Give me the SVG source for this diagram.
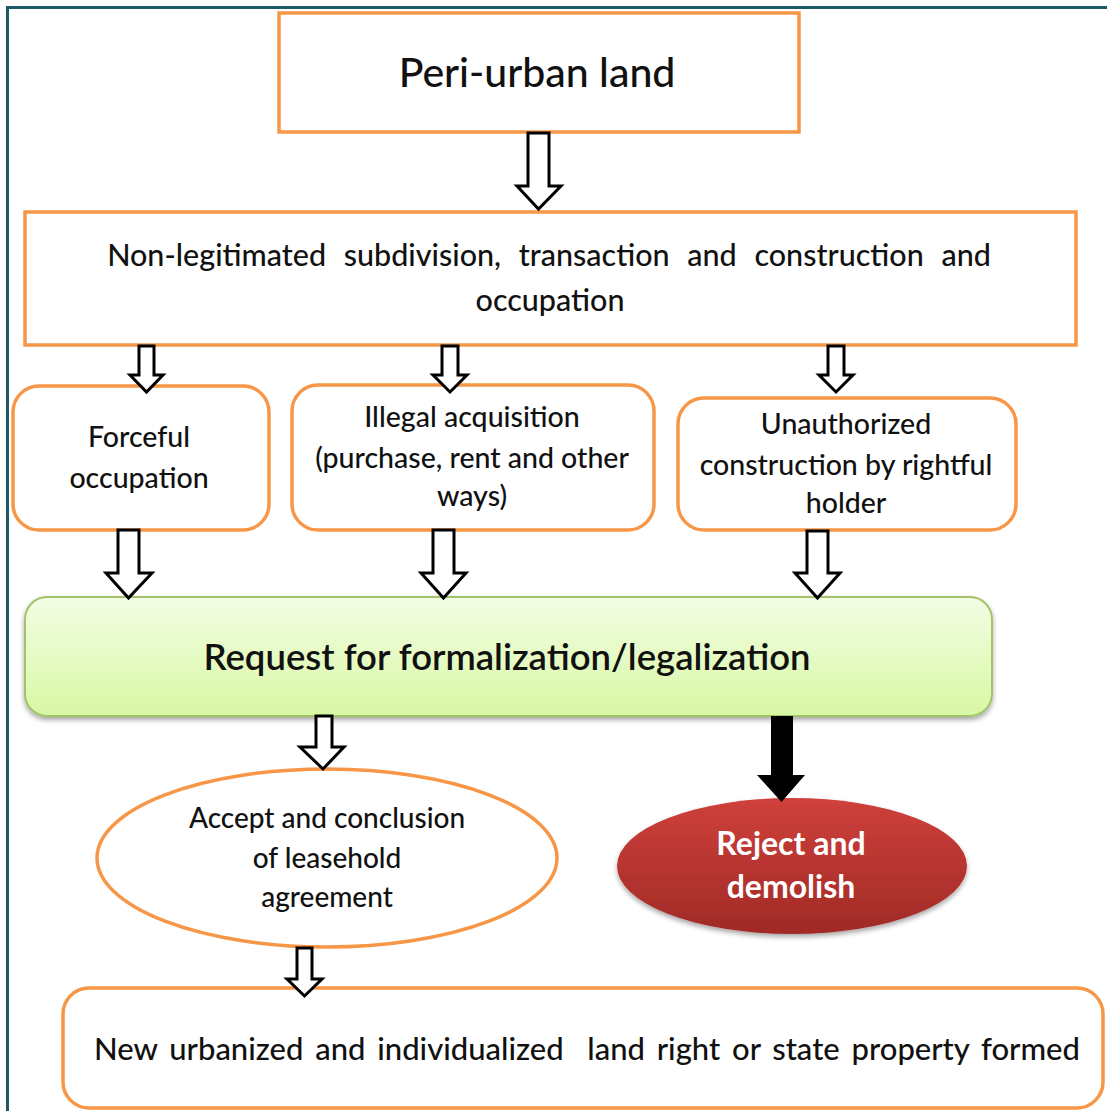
<svg xmlns="http://www.w3.org/2000/svg" width="1107" height="1111" viewBox="0 0 1107 1111">
<style>
.box{fill:#fff;stroke:#F79646;stroke-width:3.5}
.t{font-family:Lato,"Open Sans","Liberation Sans",sans-serif;font-weight:500;fill:#111;text-anchor:middle}
.ha{fill:#fff;stroke:#000;stroke-width:3;stroke-linejoin:miter}
</style>
<defs>
<linearGradient id="g" x1="0" y1="0" x2="0" y2="1">
<stop offset="0" stop-color="#F3FDE4"/><stop offset="1" stop-color="#D8F8A4"/>
</linearGradient>
<linearGradient id="r" x1="0" y1="0" x2="0" y2="1">
<stop offset="0" stop-color="#CF403B"/><stop offset="1" stop-color="#A02A26"/>
</linearGradient>
<filter id="sh" x="-10%" y="-10%" width="120%" height="130%">
<feDropShadow dx="0" dy="3" stdDeviation="2.5" flood-color="#000" flood-opacity="0.35"/>
</filter>
</defs>
<rect width="1107" height="1111" fill="#fff"/>
<path d="M7.5 1111 V7.5 H1107" fill="none" stroke="#1F5967" stroke-width="3"/>

<g id="peri">
<rect class="box" x="279" y="13" width="520" height="119"/>
<text class="t" x="537" y="87" font-size="41">Peri-urban land</text>
</g>
<g id="nonleg">
<rect class="box" x="25" y="212" width="1051" height="133"/>
<text class="t" x="549" y="266" font-size="30.5" word-spacing="10">Non-legitimated subdivision, transaction and construction and</text>
<text class="t" x="550" y="311" font-size="30.5">occupation</text>
</g>
<g id="forceful">
<rect class="box" x="13" y="386" width="256" height="144" rx="26"/>
<text class="t" x="139" y="447" font-size="28.5">Forceful</text>
<text class="t" x="139" y="488" font-size="28.5">occupation</text>
</g>
<g id="illegal">
<rect class="box" x="292" y="385" width="362" height="145" rx="26"/>
<text class="t" x="472" y="427" font-size="28.5">Illegal acquisition</text>
<text class="t" x="472" y="468" font-size="28.5">(purchase, rent and other</text>
<text class="t" x="472" y="506" font-size="28.5">ways)</text>
</g>
<g id="unauth">
<rect class="box" x="678" y="398" width="338" height="132" rx="26"/>
<text class="t" x="846" y="434" font-size="28.5">Unauthorized</text>
<text class="t" x="846" y="475" font-size="28.5">construction by rightful</text>
<text class="t" x="846" y="513" font-size="28.5">holder</text>
</g>
<g id="request">
<rect x="25" y="597" width="967" height="119" rx="22" fill="url(#g)" stroke="#A3C36A" stroke-width="2" filter="url(#sh)"/>
<text class="t" x="507" y="670" font-size="36.5" style="font-weight:600">Request for formalization/legalization</text>
</g>
<g id="accept">
<ellipse class="box" cx="327" cy="858" rx="230" ry="89"/>
<text class="t" x="327" y="828" font-size="28">Accept and conclusion</text>
<text class="t" x="327" y="868" font-size="28">of leasehold</text>
<text class="t" x="327" y="907" font-size="28">agreement</text>
</g>
<g id="reject">
<ellipse cx="792" cy="866" rx="175" ry="68" fill="url(#r)" filter="url(#sh)"/>
<text class="t" x="791" y="855" font-size="32" style="font-weight:700;fill:#fff">Reject and</text>
<text class="t" x="791" y="898" font-size="32" style="font-weight:700;fill:#fff">demolish</text>
</g>
<g id="result">
<rect class="box" x="63" y="988" width="1040" height="120" rx="26"/>
<text class="t" x="587" y="1060" font-size="31" word-spacing="4" xml:space="preserve">New urbanized and individualized  land right or state property formed</text>
</g>

<g id="connectors">
<polygon class="ha" points="528,133 549,133 549,186 561,186 538.5,209 517,186 528,186"/>
<polygon class="ha" points="139,346 154,346 154,375 163,375 146.5,392 130,375 139,375"/>
<polygon class="ha" points="442,346 458,346 458,375 467,375 450,392 433,375 442,375"/>
<polygon class="ha" points="828,346 844,346 844,375 853,375 836,392 819,375 828,375"/>
<polygon class="ha" points="118,530 139,530 139,573 152,573 128.5,598 106,573 118,573"/>
<polygon class="ha" points="433,530 454,530 454,573 466,573 443.5,598 421,573 433,573"/>
<polygon class="ha" points="807,531 828,531 828,573 840,573 817.5,598 795,573 807,573"/>
<polygon class="ha" points="316,716 332,716 332,747 344,747 323,769 300,747 316,747"/>
<polygon points="771,716 793,716 793,775 805,775 781.5,802 757,775 771,775" fill="#000"/>
<polygon class="ha" points="297,948 312,948 312,979 322,979 304.5,996 287,979 297,979"/>
</g>
</svg>
